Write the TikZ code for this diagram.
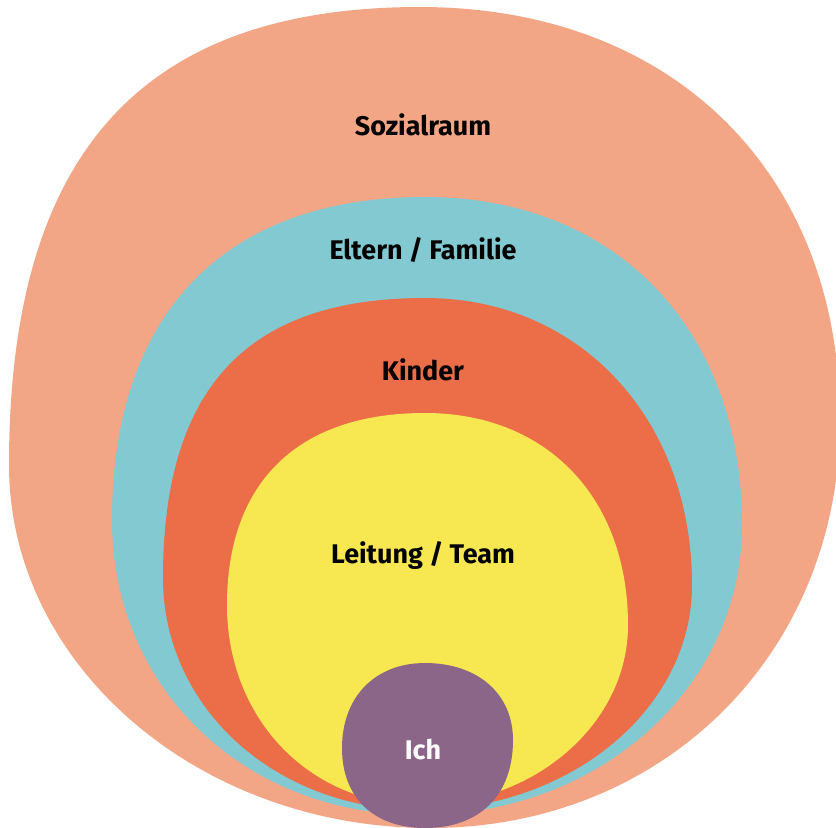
\documentclass[tikz,border=0pt]{standalone}
\usepackage{fontspec}
\setmainfont{Fira Sans}
\definecolor{cSozial}{RGB}{243,166,134}
\definecolor{cEltern}{RGB}{130,201,210}
\definecolor{cKinder}{RGB}{235,110,72}
\definecolor{cLeitung}{RGB}{247,232,82}
\definecolor{cIch}{RGB}{140,102,136}
\begin{document}
\begin{tikzpicture}[x=0.03cm,y=-0.03cm,
  lbl/.style={font=\fontsize{23}{27}\selectfont\bfseries, text=black, inner sep=0pt},
  lblw/.style={lbl, text=white}]
\useasboundingbox (0,0) rectangle (836,827);
\clip (0,0) rectangle (836,827);
% Sozialraum
\fill[cSozial] (420,7) .. controls (672,7) and (840,172) .. (840,420)
  .. controls (840,653) and (664,828) .. (430,828)
  .. controls (198,828) and (9,665) .. (9,465)
  .. controls (9,154) and (141,7) .. (420,7) -- cycle;
% Eltern / Familie
\fill[cEltern] (425,197) .. controls (615,197) and (742,328) .. (742,525)
  .. controls (742,687) and (600,815) .. (420,815)
  .. controls (244,815) and (112,688) .. (112,520)
  .. controls (112,313) and (225,197) .. (425,197) -- cycle;
% Kinder
\fill[cKinder] (425,298) .. controls (580,298) and (692,419) .. (692,585)
  .. controls (692,709) and (570,810) .. (420,810)
  .. controls (276,810) and (163,708) .. (163,578)
  .. controls (163,388) and (247,298) .. (425,298) -- cycle;
% Leitung / Team
\fill[cLeitung] (425,413) .. controls (547,413) and (628,498) .. (628,625)
  .. controls (628,724) and (534,805) .. (420,805)
  .. controls (310,805) and (227,719) .. (227,605)
  .. controls (227,482) and (298,413) .. (425,413) -- cycle;
% Ich
\fill[cIch] (425,663) .. controls (478,663) and (513,694) .. (513,740)
  .. controls (513,795) and (480,828) .. (425,828)
  .. controls (374,828) and (342,798) .. (342,748)
  .. controls (342,697) and (375,663) .. (425,663) -- cycle;
\node[lbl]  (sozial)  at (423,125) {Sozialraum};
\node[lbl]  (eltern)  at (423,250) {Eltern / Familie};
\node[lbl]  (kinder)  at (423,370) {Kinder};
\node[lbl]  (leitung) at (423,555) {Leitung / Team};
\node[lblw] (ich)     at (423,750) {Ich};
\end{tikzpicture}
\end{document}
